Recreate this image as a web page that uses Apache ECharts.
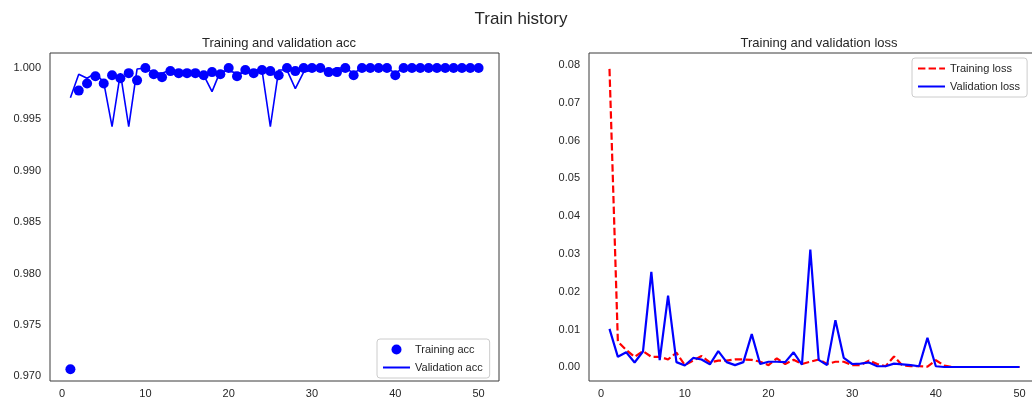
<!DOCTYPE html>
<html>
<head>
<meta charset="utf-8">
<title>Train history</title>
<script src="https://cdn.jsdelivr.net/npm/echarts@6/dist/echarts.min.js"></script>
<style>
  html, body { margin: 0; padding: 0; background: #fff; }
  #chart { width: 1032px; height: 403px; }
</style>
</head>
<body>
<div id="chart"></div>
<script>
const epochs = [1, 2, 3, 4, 5, 6, 7, 8, 9, 10, 11, 12, 13, 14, 15, 16, 17, 18, 19, 20,
  21, 22, 23, 24, 25, 26, 27, 28, 29, 30, 31, 32, 33, 34, 35, 36, 37, 38, 39, 40,
  41, 42, 43, 44, 45, 46, 47, 48, 49, 50];

const trainAcc = [0.9707, 0.9978, 0.9985, 0.9992, 0.9985, 0.9993, 0.9990, 0.9995, 0.9988, 1.0000,
  0.9994, 0.9991, 0.9997, 0.9995, 0.9995, 0.9995, 0.9993, 0.9996, 0.9994, 1.0000,
  0.9992, 0.9998, 0.9995, 0.9998, 0.9997, 0.9993, 1.0000, 0.9997, 1.0000, 1.0000,
  1.0000, 0.9996, 0.9996, 1.0000, 0.9993, 1.0000, 1.0000, 1.0000, 1.0000, 0.9993,
  1.0000, 1.0000, 1.0000, 1.0000, 1.0000, 1.0000, 1.0000, 1.0000, 1.0000, 1.0000];

const valAcc = [0.9971, 0.9994, 0.9990, 0.9995, 0.9986, 0.9943, 0.9995, 0.9943, 0.9999, 1.0000,
  0.9995, 0.9995, 0.9998, 0.9993, 0.9997, 0.9995, 0.9993, 0.9977, 0.9997, 0.9997,
  0.9995, 0.9995, 0.9998, 0.9998, 0.9943, 0.9998, 0.9998, 0.9980, 0.9996, 0.9998,
  1.0000, 0.9997, 1.0000, 1.0000, 0.9995, 1.0000, 1.0000, 1.0000, 1.0000, 0.9995,
  1.0000, 1.0000, 1.0000, 1.0000, 1.0000, 1.0000, 1.0000, 1.0000, 1.0000, 1.0000];

const trainLoss = [0.0790, 0.0068, 0.0046, 0.0028, 0.0043, 0.0028, 0.0028, 0.0021, 0.0039, 0.0006,
  0.0018, 0.0030, 0.0013, 0.0018, 0.0018, 0.0021, 0.0021, 0.0020, 0.0015, 0.0006,
  0.0024, 0.0009, 0.0020, 0.0009, 0.0015, 0.0021, 0.0009, 0.0015, 0.0015, 0.0006,
  0.0006, 0.0018, 0.0009, 0.0003, 0.0029, 0.0005, 0.0003, 0.0003, 0.0002, 0.0019,
  0.0005, 0.0001, 0.0001, 0.0001, 0.0001, 0.0001, 0.0001, 0.0001, 0.0001, 0.0001];

const valLoss = [0.0102, 0.0028, 0.0040, 0.0013, 0.0042, 0.0253, 0.0019, 0.0190, 0.0014, 0.0005,
  0.0025, 0.0021, 0.0008, 0.0043, 0.0014, 0.0006, 0.0014, 0.0088, 0.0009, 0.0015,
  0.0015, 0.0014, 0.0040, 0.0007, 0.0312, 0.0020, 0.0006, 0.0125, 0.0025, 0.0009,
  0.0010, 0.0013, 0.0003, 0.0003, 0.0010, 0.0008, 0.0006, 0.0003, 0.0078, 0.0003,
  0.0001, 0.0001, 0.0001, 0.0001, 0.0001, 0.0001, 0.0001, 0.0001, 0.0001, 0.0001];

const FONT = '"Liberation Sans", Arial, sans-serif';
const TEXT = '#262626';

function pairs(values) {
  return values.map((v, i) => [epochs[i], v]);
}

function stepLabel(step, digits) {
  return function (v) {
    const k = v / step;
    return Math.abs(k - Math.round(k)) < 1e-6 ? v.toFixed(digits) : '';
  };
}

function xAxisFor(gridIndex) {
  return {
    type: 'value',
    gridIndex: gridIndex,
    min: -1.45,
    max: 52.45,
    splitNumber: 5,
    axisLine: { show: false },
    axisTick: { show: false },
    splitLine: { show: false },
    axisLabel: {
      formatter: stepLabel(10, 0),
      showMinLabel: false,
      showMaxLabel: false,
      margin: 7,
      fontSize: 11,
      fontFamily: FONT,
      color: TEXT
    }
  };
}

// line legend icons: hide the marker ECharts adds in the middle of the line
const noMarker = { color: 'rgba(0,0,0,0)', borderWidth: 0, opacity: 0 };

const legendBox = {
  orient: 'vertical',
  backgroundColor: '#fff',
  borderColor: '#cccccc',
  borderWidth: 1,
  borderRadius: 3,
  padding: [5, 7, 5, 5],
  itemWidth: 27,
  itemHeight: 10,
  itemGap: 7,
  textStyle: { fontSize: 11, fontFamily: FONT, color: TEXT }
};

const chart = echarts.init(document.getElementById('chart'));

const option = {
  animation: false,
  backgroundColor: '#fff',
  title: [
    {
      text: 'Train history',
      left: 516, top: 6, textAlign: 'center',
      textStyle: { fontSize: 17, fontWeight: 'normal', fontFamily: FONT, color: TEXT }
    },
    {
      text: 'Training and validation acc',
      left: 274, top: 32, textAlign: 'center',
      textStyle: { fontSize: 13, fontWeight: 'normal', fontFamily: FONT, color: TEXT }
    },
    {
      text: 'Training and validation loss',
      left: 814, top: 32, textAlign: 'center',
      textStyle: { fontSize: 13, fontWeight: 'normal', fontFamily: FONT, color: TEXT }
    }
  ],
  legend: [
    Object.assign({}, legendBox, {
      left: 377, top: 339,
      data: [
        { name: 'Training acc', icon: 'circle' },
        { name: 'Validation acc', itemStyle: noMarker }
      ]
    }),
    Object.assign({}, legendBox, {
      left: 912, top: 58,
      data: [
        { name: 'Training loss', itemStyle: noMarker },
        { name: 'Validation loss', itemStyle: noMarker }
      ]
    })
  ],
  grid: [
    {
      left: 50, top: 53, width: 449, height: 328,
      show: true, borderColor: '#3a3a3a', borderWidth: 1, backgroundColor: 'transparent',
      outerBoundsMode: 'none'
    },
    {
      left: 589, top: 53, width: 451, height: 328,
      show: true, borderColor: '#3a3a3a', borderWidth: 1, backgroundColor: 'transparent',
      outerBoundsMode: 'none'
    }
  ],
  xAxis: [xAxisFor(0), xAxisFor(1)],
  yAxis: [
    {
      type: 'value',
      gridIndex: 0,
      min: 0.96955,
      max: 1.00146,
      splitNumber: 6,
      axisLine: { show: false },
      axisTick: { show: false },
      splitLine: { show: false },
      axisLabel: {
        formatter: stepLabel(0.005, 3),
        margin: 9,
        fontSize: 11,
        fontFamily: FONT,
        color: TEXT
      }
    },
    {
      type: 'value',
      gridIndex: 1,
      min: -0.0036,
      max: 0.0832,
      splitNumber: 9,
      axisLine: { show: false },
      axisTick: { show: false },
      splitLine: { show: false },
      axisLabel: {
        formatter: stepLabel(0.01, 2),
        margin: 9,
        fontSize: 11,
        fontFamily: FONT,
        color: TEXT
      }
    }
  ],
  series: [
    {
      name: 'Training acc',
      type: 'scatter',
      xAxisIndex: 0,
      yAxisIndex: 0,
      symbol: 'circle',
      symbolSize: 10,
      itemStyle: { color: '#0000ff', opacity: 1 },
      data: pairs(trainAcc),
      z: 2
    },
    {
      name: 'Validation acc',
      type: 'line',
      xAxisIndex: 0,
      yAxisIndex: 0,
      symbol: 'none',
      color: '#0000ff',
      lineStyle: { color: '#0000ff', width: 1.6 },
      data: pairs(valAcc),
      z: 3
    },
    {
      name: 'Training loss',
      type: 'line',
      xAxisIndex: 1,
      yAxisIndex: 1,
      symbol: 'none',
      color: '#ff0000',
      lineStyle: { color: '#ff0000', width: 2.2, type: [7.4, 3.2] },
      data: pairs(trainLoss),
      z: 2
    },
    {
      name: 'Validation loss',
      type: 'line',
      xAxisIndex: 1,
      yAxisIndex: 1,
      symbol: 'none',
      color: '#0000ff',
      lineStyle: { color: '#0000ff', width: 2.2 },
      data: pairs(valLoss),
      z: 3
    }
  ]
};

chart.setOption(option);
</script>
</body>
</html>
